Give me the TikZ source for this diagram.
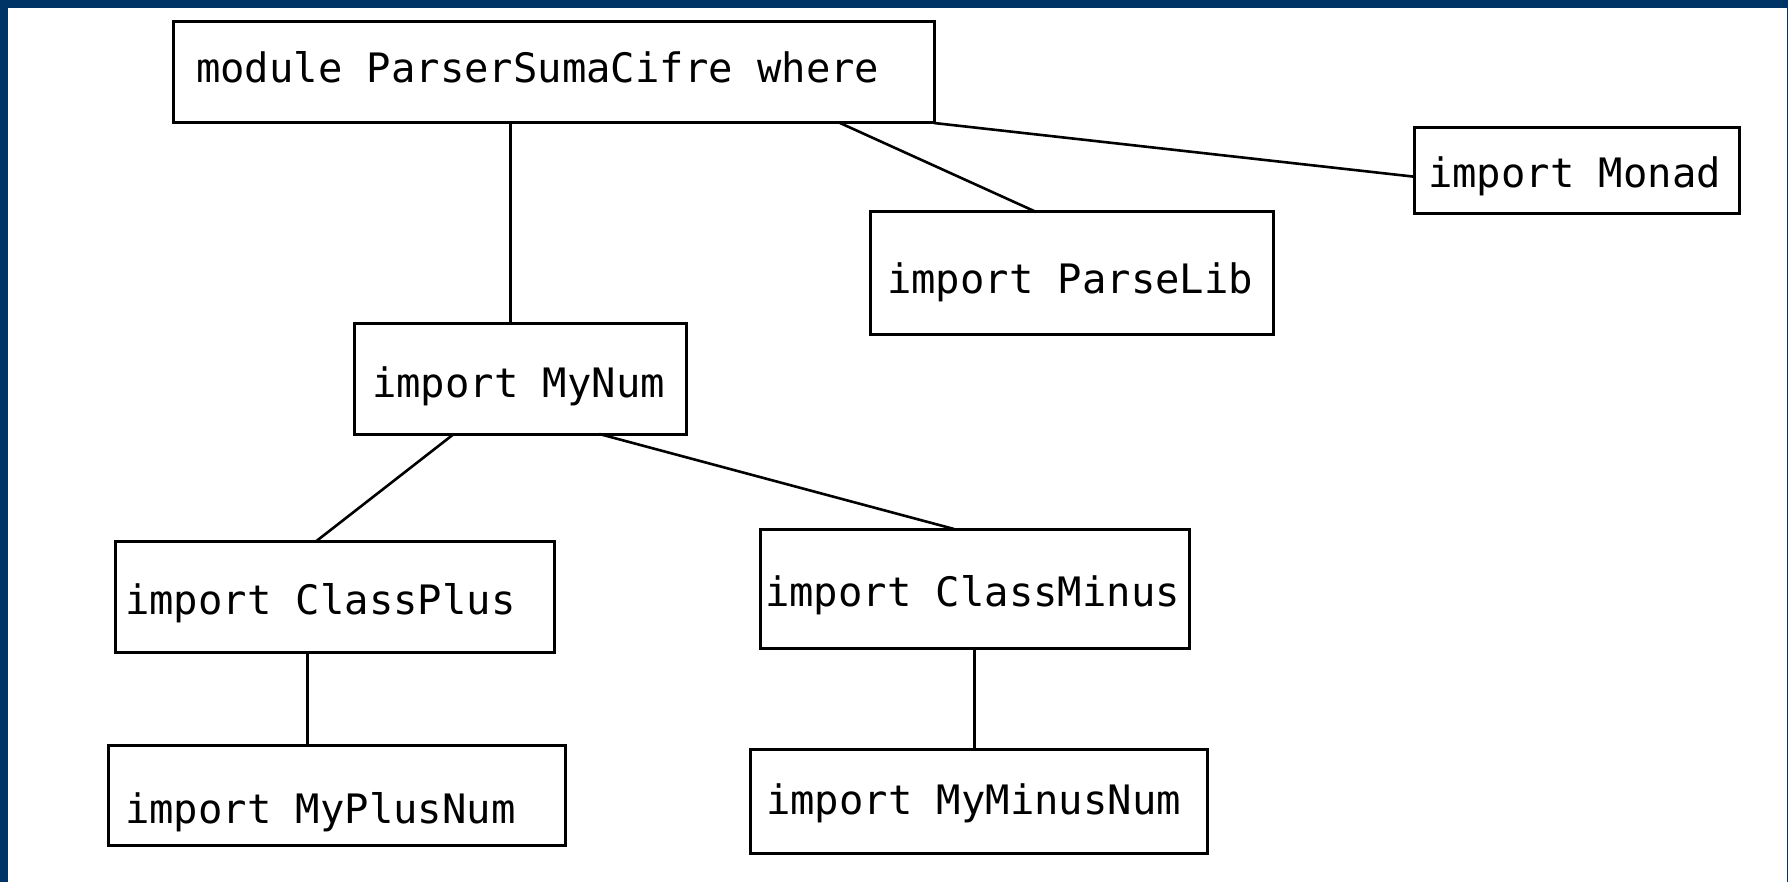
\documentclass[tikz,border=0pt]{standalone}
\usepackage{fontspec}
\usepackage{tikz}
\newfontfamily\codefont{DejaVu Sans Mono}
\newcommand{\codesize}{\codefont\fontsize{20.27pt}{24pt}\selectfont\setlength{\spaceskip}{0.602em}}
\definecolor{slideblue}{RGB}{0,51,102}

\tikzset{
  modbox/.style={draw, line width=1.5pt, outer sep=0pt, inner ysep=0pt, anchor=north west, align=flush left,
    font=\codesize},
  link/.style={line width=1.3pt}
}

\begin{document}
\begin{tikzpicture}[x=0.5pt, y=-0.5pt]
  % slide frame
  \fill[slideblue] (0,0) rectangle (1788,882);
  \fill[white] (7.5,8) rectangle (1786.5,882);
  \useasboundingbox (0,0) rectangle (1788,882);

  % module and its imports
  \node[modbox, inner xsep=11.5pt, text width=357.5pt, text height=30.5pt, text depth=20pt] (mod) at (173,22) {module~ParserSumaCifre~where};
  \node[modbox, inner xsep=9pt, text width=148pt, text height=37pt, text depth=18.5pt] (mynum) at (354,323) {import~MyNum};
  \node[modbox, inner xsep=8.5pt, text width=184.5pt, text height=40.5pt, text depth=20.5pt] (parselib) at (870,212) {import~ParseLib};
  \node[modbox, inner xsep=7pt, text width=148.5pt, text height=30pt, text depth=13pt] (monad) at (1414,128) {import~Monad};
  \node[modbox, inner xsep=5pt, text width=209.5pt, text height=36.5pt, text depth=19pt] (classplus) at (115,541) {import~ClassPlus};
  \node[modbox, inner xsep=8.5pt, text width=211.5pt, text height=39pt, text depth=11pt] (myplusnum) at (108,745) {import~MyPlusNum};
  \node[modbox, inner xsep=2.5pt, text width=209.5pt, text height=38.5pt, text depth=21pt] (classminus) at (760,529) {import~ClassMinus};
  \node[modbox, inner xsep=8pt, text width=212.5pt, text height=32.5pt, text depth=19.5pt] (myminusnum) at (750,749) {import~MyMinusNum};

  % links
  \draw[link] (mynum.100) -- (mynum.100 |- mod.south);
  \draw[link] (mod.-10) -- (parselib.120);
  \draw[link] (mod.south east) -- (monad.182);
  \draw[link] (mynum.220) -- (classplus.108);
  \draw[link] (mynum.-35) -- (classminus.109);
  \draw[link] (classplus.244) -- (classplus.244 |- myplusnum.north);
  \draw[link] (classminus.south) -- (classminus.south |- myminusnum.north);
\end{tikzpicture}
\end{document}
